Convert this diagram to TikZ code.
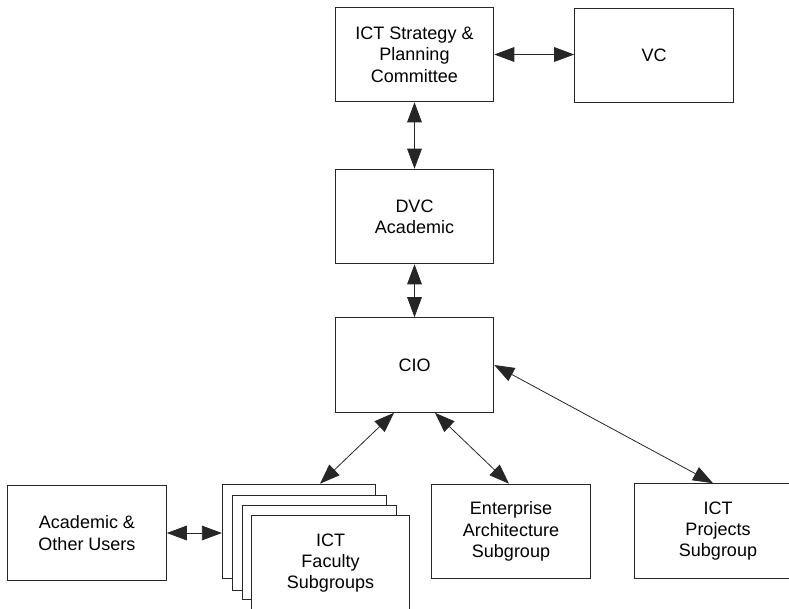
\documentclass[tikz,border=0pt]{standalone}
\usepackage{fontspec}
\setmainfont{Liberation Sans}
\usetikzlibrary{arrows.meta, calc}

\tikzset{
  caja/.style={draw=black!85, fill=white, line width=.7pt, minimum width=119pt, minimum height=71pt,
    inner sep=0pt, align=center, font=\fontsize{13.5}{16}\selectfont},
  flecha/.style={draw=black!85, line width=.6pt, {Triangle[length=15pt,width=11pt]}-{Triangle[length=15pt,width=11pt]}}
}

\begin{document}
\begin{tikzpicture}[x=.75pt, y=-.75pt]
		\useasboundingbox (0,0) rectangle (789,608);
		
		% Cajas
		\node[caja] (plan) at (414.5,54.5) {ICT Strategy \&\\Planning\\Committee};
		\node[caja] (vc) at (654,55.5) {VC};
		\node[caja] (dvc) at (414.5,216.5) {DVC\\Academic};
		\node[caja] (cio) at (414.5,365) {CIO};
		\node[caja] (users) at (87,533) {Academic \&\\Other Users};
		\node[caja, minimum width=115pt] (facA) at (299,531.5) {};
		\node[caja, minimum width=115pt] (facB) at (309.5,543) {};
		\node[caja, minimum width=115pt] (facC) at (319.5,552.5) {};
		\node[caja] (facD) at (330.5,563) {ICT\\Faculty\\Subgroups};
		\node[caja] (ent) at (511,531.5) {Enterprise\\Architecture\\Subgroup};
		\node[caja, minimum width=126pt] (proj) at (718,531) {ICT\\Projects\\Subgroup};
		
		% Flechas
		\draw[flecha] (plan.east) -- (vc.west |- plan.east);
		\draw[flecha] (plan.south) -- (dvc.north);
		\draw[flecha] (dvc.south) -- (cio.north);
		\draw[flecha] ($(cio.south)+(-20.5,0)$) -- ($(facA.north)+(21,0)$);
		\draw[flecha] ($(cio.south)+(20.5,0)$) -- ($(ent.north)+(-2,0)$);
		\draw[flecha] (cio.east) -- ($(proj.north)+(-5,0)$);
		\draw[flecha] (users.east) -- (facA.west |- users.east);
	\end{tikzpicture}
\end{document}
